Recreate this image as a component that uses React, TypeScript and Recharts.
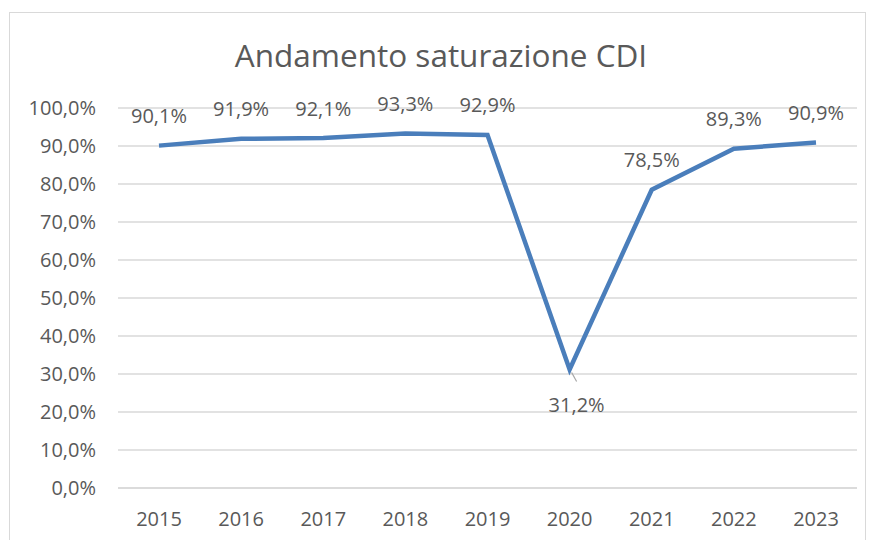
import { CartesianGrid, LabelList, Line, LineChart, XAxis, YAxis } from "recharts";

const YEARS = ["2015", "2016", "2017", "2018", "2019", "2020", "2021", "2022", "2023"];
const SATURAZIONE = [90.1, 91.9, 92.1, 93.3, 92.9, 31.2, 78.5, 89.3, 90.9];
const Y_TICKS = [0, 10, 20, 30, 40, 50, 60, 70, 80, 90, 100];

const chartData = YEARS.map((year, i) => ({ year, value: SATURAZIONE[i] }));

const FONT = "'Open Sans', sans-serif";
const TEXT = "#595959";
const FS = 20;

const fmt = (v: number) => v.toFixed(1).replace(".", ",") + "%";

function PointLabel({ x, y, value, index }: any) {
  const prev = SATURAZIONE[index - 1];
  const next = SATURAZIONE[index + 1];
  const below = prev !== undefined && next !== undefined && value < prev && value < next;
  if (below) {
    return (
      <g>
        <line x1={x + 2} y1={y + 3} x2={x + 7} y2={y + 12} stroke="#a6a6a6" strokeWidth={1.2} />
        <text x={x + 7} y={y + 35} fill={TEXT} fontSize={FS} fontFamily={FONT} textAnchor="middle" dominantBaseline="central">
          {fmt(value)}
        </text>
      </g>
    );
  }
  return (
    <text x={x} y={y - 30} fill={TEXT} fontSize={FS} fontFamily={FONT} textAnchor="middle" dominantBaseline="central">
      {fmt(value)}
    </text>
  );
}

export default function App() {
  return (
    <div style={{ position: "fixed", left: 0, top: 0, width: 874, height: 540, background: "#fff", fontFamily: FONT }}>
      <div
        style={{
          position: "absolute",
          left: 9,
          top: 12,
          width: 857,
          height: 540,
          border: "1px solid #d9d9d9",
          boxSizing: "border-box",
        }}
      />
      <div
        style={{
          position: "absolute",
          left: 0,
          top: 34,
          width: 882,
          textAlign: "center",
          fontSize: 31.5,
          color: TEXT,
          lineHeight: "42px",
        }}
      >
        Andamento saturazione CDI
      </div>
      <div style={{ position: "absolute", left: 0, top: 0 }}>
        <LineChart width={874} height={540} data={chartData} margin={{ top: 108, right: 17, bottom: 22, left: 18 }}>
          <CartesianGrid vertical={false} stroke="#d9d9d9" strokeWidth={1.5} />
          <XAxis
            dataKey="year"
            padding={{ left: 41, right: 41 }}
            axisLine={{ stroke: "#d9d9d9", strokeWidth: 1.5 }}
            tickLine={false}
            tickMargin={18}
            tick={{ fill: TEXT, fontSize: FS, fontFamily: FONT }}
          />
          <YAxis
            width={100}
            domain={[0, 100]}
            ticks={Y_TICKS}
            tickFormatter={fmt}
            axisLine={false}
            tickLine={false}
            tickMargin={16}
            tick={{ fill: TEXT, fontSize: FS, fontFamily: FONT }}
          />
          <Line
            type="linear"
            dataKey="value"
            stroke="#4a7ebb"
            strokeWidth={4.5}
            dot={false}
            isAnimationActive={false}
          >
            <LabelList dataKey="value" content={<PointLabel />} />
          </Line>
        </LineChart>
      </div>
    </div>
  );
}
